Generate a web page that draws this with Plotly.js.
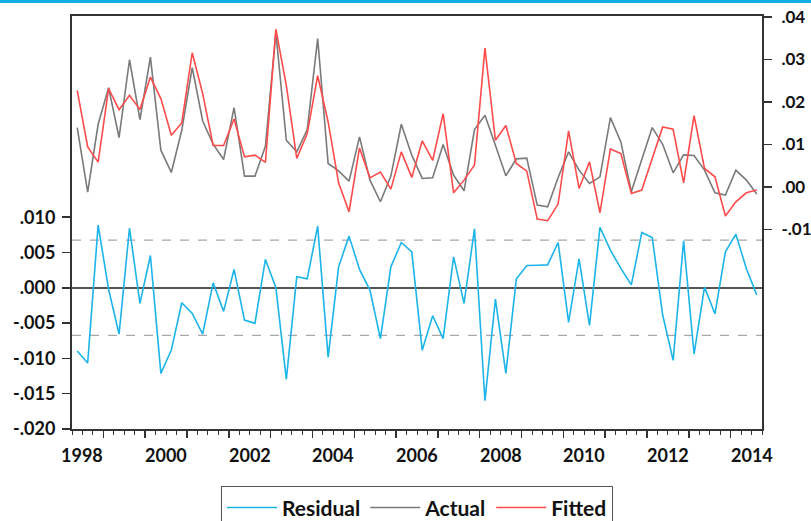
<!DOCTYPE html>
<html>
<head>
<meta charset="utf-8">
<script src="https://cdn.plot.ly/plotly-3.0.1.min.js"></script>
<style>
  html, body { margin: 0; padding: 0; background: #ffffff; }
  #topbar { position: absolute; left: 0; top: 0; width: 811px; height: 3px; background: #14aee6; z-index: 5; }
  #chart { width: 811px; height: 521px; }
</style>
</head>
<body>
<div id="topbar"></div>
<div id="chart"></div>
<script>
// Quarterly observations, oldest first
const residual = [
  -0.00896, -0.01066, 0.00887, -0.00020, -0.00655, 0.00845, -0.00221, 0.00458, -0.01212, -0.00882,
  -0.00212, -0.00363, -0.00655, 0.00071, -0.00334, 0.00260, -0.00457, -0.00504, 0.00402, 0.00006,
  -0.01296, 0.00156, 0.00127, 0.00873, -0.00985, 0.00297, 0.00732, 0.00260, -0.00033, -0.00721,
  0.00297, 0.00642, 0.00510, -0.00886, -0.00396, -0.00721, 0.00439, -0.00221, 0.00835, -0.01599,
  -0.00160, -0.01212, 0.00123, 0.00316, 0.00320, 0.00325, 0.00642, -0.00490, 0.00410, -0.00532,
  0.00855, 0.00533, 0.00274, 0.00042, 0.00784, 0.00713, -0.00386, -0.01028, 0.00665, -0.00938,
  0.00010, -0.00368, 0.00510, 0.00760, 0.00274, -0.00103
];
const actual = [
  0.01394, -0.00124, 0.01472, 0.02333, 0.01160, 0.02990, 0.01582, 0.03052, 0.00862, 0.00338,
  0.01331, 0.02803, 0.01549, 0.01002, 0.00643, 0.01864, 0.00251, 0.00251, 0.00955, 0.03631,
  0.01096, 0.00822, 0.01347, 0.03490, 0.00549, 0.00376, 0.00134, 0.01174, 0.00157, -0.00352,
  0.00251, 0.01472, 0.00744, 0.00197, 0.00211, 0.00995, 0.00275, -0.00094, 0.01347, 0.01683,
  0.00979, 0.00258, 0.00657, 0.00674, -0.00430, -0.00469, 0.00220, 0.00822, 0.00392, 0.00080,
  0.00235, 0.01629, 0.01056, -0.00117, 0.00643, 0.01394, 0.01002, 0.00329, 0.00751, 0.00737,
  0.00392, -0.00141, -0.00195, 0.00392, 0.00157, -0.00171
];
const fitted = [
  0.02270, 0.00939, 0.00580, 0.02310, 0.01817, 0.02153, 0.01817, 0.02582, 0.02075, 0.01214,
  0.01502, 0.03155, 0.02192, 0.00972, 0.00972, 0.01596, 0.00704, 0.00744, 0.00573, 0.03709,
  0.02387, 0.00667, 0.01254, 0.02615, 0.01526, 0.00094, -0.00587, 0.00916, 0.00211, 0.00345,
  -0.00054, 0.00822, 0.00221, 0.01080, 0.00620, 0.01723, -0.00141, 0.00157, 0.00516, 0.03263,
  0.01096, 0.01441, 0.00549, 0.00369, -0.00758, -0.00798, -0.00406, 0.01315, -0.00038, 0.00587,
  -0.00610, 0.00892, 0.00784, -0.00155, -0.00077, 0.00667, 0.01408, 0.01354, 0.00094, 0.01676,
  0.00432, 0.00235, -0.00688, -0.00352, -0.00141, -0.00077
];

// Standard error of the regression (dashed band around the residuals)
const seBand = 0.00674;

// Axis labels
const yearLabels = ['1998', '2000', '2002', '2004', '2006', '2008', '2010', '2012', '2014'];
const residTicks = [-0.020, -0.015, -0.010, -0.005, 0.000, 0.005, 0.010];
const residTickText = ['-.020', '-.015', '-.010', '-.005', '.000', '.005', '.010'];
const levelTicks = [-0.01, 0.00, 0.01, 0.02, 0.03, 0.04];
const levelTickText = ['-.01', '.00', '.01', '.02', '.03', '.04'];

// observation index 0..n-1
const obs = residual.map((_, i) => i);
const xRange = [-0.5, residual.length - 0.5];
// a year label every two years (8 quarters), starting half a period in
const labelPos = yearLabels.map((_, k) => 0.5 + 8 * k);

const fontFamily = 'Lato, Noto Sans, DejaVu Sans, sans-serif';
const axisColor = '#333333';
const tickFont = { family: fontFamily, size: 18, color: '#111111', weight: 700 };
const rightTickFont = { family: fontFamily, size: 17, color: '#111111', weight: 700 };

const traces = [
  { x: obs, y: residual, yaxis: 'y', type: 'scatter', mode: 'lines', name: 'Residual',
    line: { color: '#1db4ea', width: 1.6 } },
  { x: obs, y: actual, yaxis: 'y2', type: 'scatter', mode: 'lines', name: 'Actual',
    line: { color: '#7a7a7a', width: 1.6 } },
  { x: obs, y: fitted, yaxis: 'y2', type: 'scatter', mode: 'lines', name: 'Fitted',
    line: { color: '#ff4b4b', width: 1.6 } }
];

const layout = {
  width: 811, height: 521,
  margin: { l: 72, r: 49, t: 16, b: 92, autoexpand: false },
  paper_bgcolor: '#ffffff', plot_bgcolor: '#ffffff',
  showlegend: true,
  xaxis: {
    range: xRange, showgrid: false, zeroline: false,
    showline: true, mirror: true, linecolor: axisColor, linewidth: 2,
    tickmode: 'linear', tick0: 2.5, dtick: 4,
    ticks: 'outside', ticklen: 7, tickwidth: 1.5, tickcolor: axisColor,
    showticklabels: false,
    minor: { ticks: 'outside', tick0: 0.5, dtick: 1, ticklen: 4, tickwidth: 1, tickcolor: axisColor, showgrid: false }
  },
  yaxis: {
    range: [-0.020, 0.0385], showgrid: false,
    zeroline: true, zerolinecolor: '#555555', zerolinewidth: 1.5,
    showline: true, linecolor: axisColor, linewidth: 2,
    tickmode: 'array', tickvals: residTicks, ticktext: residTickText,
    ticks: 'outside', ticklen: 8, tickwidth: 1.5, tickcolor: axisColor,
    ticklabelstandoff: 3,
    tickfont: tickFont
  },
  yaxis2: {
    overlaying: 'y', side: 'right', anchor: 'x',
    range: [-0.0570, 0.0402], showgrid: false, zeroline: false,
    showline: true, linecolor: axisColor, linewidth: 2,
    tickmode: 'array', tickvals: levelTicks, ticktext: levelTickText,
    ticks: 'outside', ticklen: 8, tickwidth: 1.5, tickcolor: axisColor,
    ticklabelstandoff: 6,
    tickfont: rightTickFont
  },
  // year labels under the quarterly axis
  annotations: yearLabels.map((t, k) => ({
    text: t, x: labelPos[k], xref: 'x', y: -0.063, yref: 'paper',
    xanchor: 'center', yanchor: 'middle', showarrow: false, font: tickFont
  })),
  shapes: [seBand, -seBand].map(v => ({
    type: 'line', layer: 'below', xref: 'paper', x0: 0, x1: 1, yref: 'y', y0: v, y1: v,
    line: { color: '#a8a8a8', width: 1.2, dash: 'dash' }
  })),
  legend: {
    orientation: 'h', x: 0.5, xanchor: 'center', y: -0.139, yanchor: 'top',
    bordercolor: '#555555', borderwidth: 1, bgcolor: '#ffffff',
    font: { family: fontFamily, size: 21, color: '#111111', weight: 700 },
    itemwidth: 50, traceorder: 'normal'
  }
};

Plotly.newPlot('chart', traces, layout, { displayModeBar: false, staticPlot: true });
</script>
</body>
</html>
